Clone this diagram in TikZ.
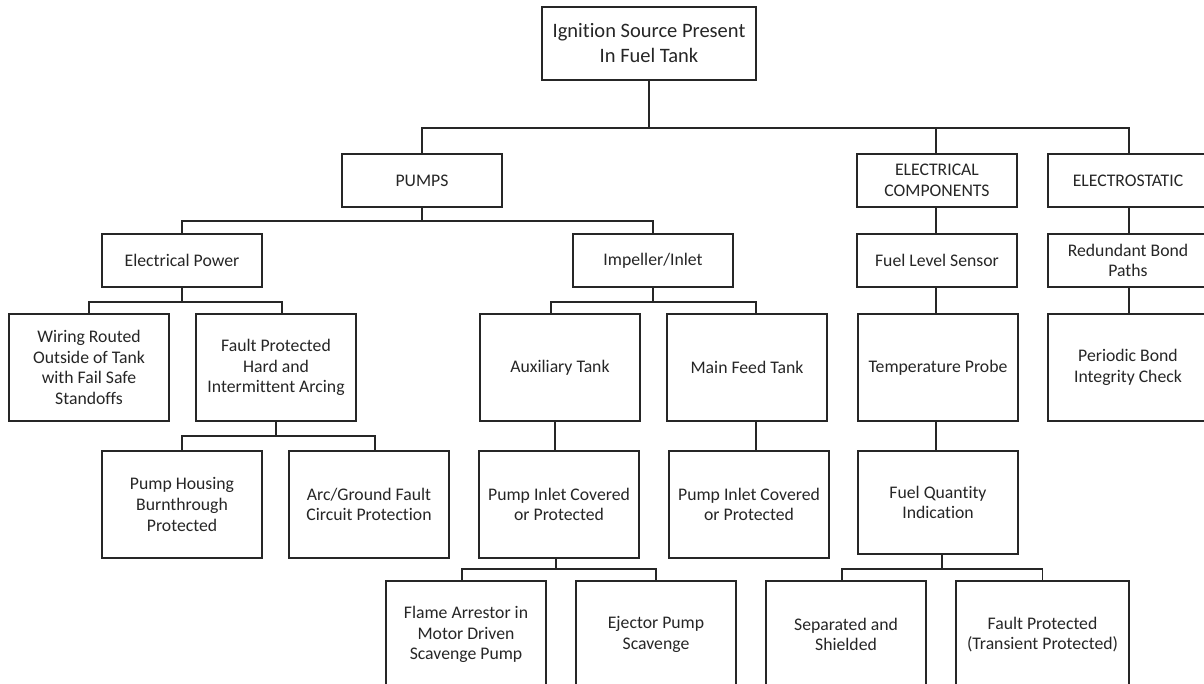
\documentclass[tikz,border=0pt]{standalone}
\usepackage{fontspec}
\setmainfont{Carlito}[Ligatures=NoCommon]
\begin{document}
\begin{tikzpicture}[x=1pt,y=-1pt,
  box/.style={draw=black!85, line width=1.5pt, align=center, inner sep=0pt,
    minimum width=160pt, minimum height=107pt, fill=white,
    font=\fontsize{17.7}{20.8}\selectfont, text=black!85},
  shortbox/.style={box, minimum height=53pt},
  conn/.style={draw=black!85, line width=1.5pt}]
\useasboundingbox (0,0) rectangle (1204,683);
\clip (0,0) rectangle (1204,683);
\fill[white] (0,0) rectangle (1204,683);

% level 0
\node[box, minimum width=214pt, minimum height=73pt, font=\fontsize{20.5}{25}\selectfont] (root) at (649,43.5) {Ignition Source Present\\In Fuel Tank};
% level 1
\node[shortbox] (pumps) at (422,180.5) {PUMPS};
\node[shortbox] (elec) at (937,180.5) {ELECTRICAL\\COMPONENTS};
\node[shortbox] (estat) at (1128,180.5) {ELECTROSTATIC};
% level 2
\node[shortbox] (epower) at (182,260.5) {Electrical Power};
\node[shortbox] (imp) at (653,260.5) {Impeller/Inlet};
\node[shortbox] (fls) at (937,260.5) {Fuel Level Sensor};
\node[shortbox] (rbp) at (1128,260.5) {Redundant Bond\\Paths};
% level 3
\node[box] (wiring) at (89,367.5) {Wiring Routed\\Outside of Tank\\with Fail Safe\\Standoffs};
\node[box] (faultph) at (276,367.5) {Fault Protected\\Hard and\\Intermittent Arcing};
\node[box] (aux) at (560,367.5) {Auxiliary Tank};
\node[box] (mainfeed) at (747,367.5) {Main Feed Tank};
\node[box] (temp) at (938,367.5) {Temperature Probe};
\node[box] (pbic) at (1128,367.5) {Periodic Bond\\Integrity Check};
% level 4
\node[box] (housing) at (182,504.5) {Pump Housing\\Burnthrough\\Protected};
\node[box] (arc) at (369,504.5) {Arc/Ground Fault\\Circuit Protection};
\node[box] (pic1) at (559,504.5) {Pump Inlet Covered\\or Protected};
\node[box] (pic2) at (749,504.5) {Pump Inlet Covered\\or Protected};
\node[box, minimum height=103pt] (fqi) at (938,502.5) {Fuel Quantity\\Indication};
% level 5
\node[box] (flame) at (466,634.5) {Flame Arrestor in\\Motor Driven\\Scavenge Pump};
\node[box] (ejector) at (656,634.5) {Ejector Pump\\Scavenge};
\node[box] (sep) at (846,634.5) {Separated and\\Shielded};
\node[box, minimum width=173pt] (ftp) at (1042.5,634.5) {Fault Protected\\(Transient Protected)};

% connectors
\draw[conn] (root.south) -- ++(0,47) coordinate (r1);
\draw[conn] (pumps.north) |- (r1) -| ([xshift=1pt]estat.north);
\draw[conn] ([xshift=-1pt]elec.north) -- ([xshift=-1pt]elec.north |- r1);

\draw[conn] (pumps.south) -- ++(0,13) coordinate (p1);
\draw[conn] (epower.north) |- (p1) -| (imp.north);

\draw[conn] (epower.south) -- ++(0,14) coordinate (e1);
\draw[conn] (wiring.north) |- (e1) -| ([xshift=6pt]faultph.north);

\draw[conn] (faultph.south) -- ++(0,14) coordinate (f1);
\draw[conn] (housing.north) |- (f1) -| ([xshift=6pt]arc.north);

\draw[conn] (imp.south) -- ++(0,14) coordinate (i1);
\draw[conn] ([xshift=-9pt]aux.north) |- (i1) -| ([xshift=9pt]mainfeed.north);

\draw[conn] ([xshift=-5pt]aux.south) -- ([xshift=-5pt]aux.south |- pic1.north);
\draw[conn] ([xshift=9pt]mainfeed.south) -- ([xshift=9pt]mainfeed.south |- pic2.north);

\draw[conn] ([xshift=-3pt]pic1.south) -- ++(0,10) coordinate (q1);
\draw[conn] ([xshift=-4pt]flame.north) |- (q1) -| (ejector.north);

\draw[conn] ([xshift=-1pt]elec.south) -- ([xshift=-1pt]elec.south |- fls.north);
\draw[conn] ([xshift=-1pt]fls.south) -- ([xshift=-1pt]fls.south |- temp.north);
\draw[conn] ([xshift=-2pt]temp.south) -- ([xshift=-2pt]temp.south |- fqi.north);

\draw[conn] ([xshift=4pt]fqi.south) -- ++(0,14) coordinate (g1);
\draw[conn] ([xshift=-4pt]sep.north) |- (g1) -| (ftp.north);

\draw[conn] ([xshift=1pt]estat.south) -- ([xshift=1pt]estat.south |- rbp.north);
\draw[conn] ([xshift=1pt]rbp.south) -- ([xshift=1pt]rbp.south |- pbic.north);
\end{tikzpicture}
\end{document}
